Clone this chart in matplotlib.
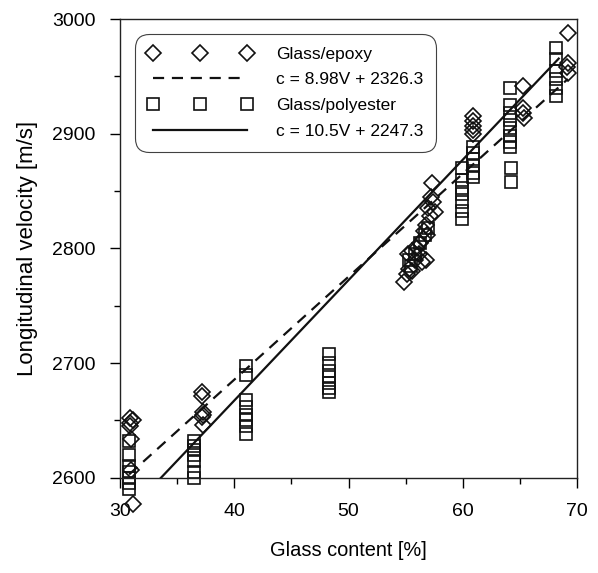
import matplotlib
matplotlib.use("Agg")
import matplotlib.pyplot as plt
import numpy as np

plt.rcParams['font.family'] = ['Liberation Sans', 'DejaVu Sans']

# Glass/epoxy data (glass content %, velocity m/s)
epoxy_v = [30.9, 30.9, 30.9, 31.0, 31.0, 31.1, 31.1,
           37.2, 37.2, 37.3, 37.3, 37.2, 37.3,
           57.3, 57.2, 57.4, 57.0, 57.6, 57.1, 56.8, 56.6, 56.9, 56.5, 56.3,
           56.0, 56.2, 55.6, 55.2, 55.8, 56.4, 56.8, 55.3, 55.1, 55.6, 54.9,
           60.9, 60.9, 60.9, 60.9, 60.9,
           65.3, 65.3, 65.3, 65.4,
           69.2, 69.2, 69.2, 69.1]
epoxy_c = [2652, 2648, 2645, 2634, 2607, 2650, 2577,
           2675, 2671, 2657, 2655, 2653, 2646,
           2857, 2845, 2840, 2835, 2832, 2828, 2820, 2815, 2812, 2808, 2805,
           2800, 2795, 2798, 2795, 2790, 2788, 2790, 2782, 2778, 2780, 2771,
           2915, 2911, 2907, 2903, 2900,
           2942, 2922, 2918, 2914,
           2988, 2962, 2953, 2958]

# Glass/polyester data
poly_v = [30.8, 30.8, 30.8, 30.8, 30.8, 30.8, 30.8,
          36.5, 36.5, 36.5, 36.5, 36.5, 36.5, 36.5,
          41.0, 41.0, 41.0, 41.0, 41.0, 41.0, 41.0, 41.0,
          48.3, 48.3, 48.3, 48.3, 48.3, 48.3, 48.3,
          55.3, 55.8, 56.3, 56.7, 57.0, 55.5,
          59.9, 59.9, 59.9, 59.9, 59.9, 59.9, 59.9,
          60.9, 60.9, 60.9, 60.9, 60.9, 60.9,
          64.1, 64.1, 64.1, 64.1, 64.1, 64.1, 64.1, 64.2, 64.2, 64.1,
          68.2, 68.2, 68.2, 68.2, 68.2, 68.2]
poly_c = [2632, 2620, 2610, 2605, 2600, 2595, 2590,
          2632, 2628, 2624, 2620, 2615, 2605, 2600,
          2697, 2690, 2668, 2662, 2655, 2650, 2645, 2638,
          2708, 2700, 2693, 2688, 2683, 2678, 2675,
          2790, 2795, 2805, 2812, 2818, 2785,
          2870, 2860, 2853, 2847, 2840, 2833, 2826,
          2888, 2883, 2878, 2872, 2866, 2862,
          2925, 2918, 2912, 2905, 2898, 2893, 2888, 2870, 2858, 2940,
          2975, 2965, 2955, 2948, 2940, 2933]

# Regression lines c = a*V + b
epoxy_fit = (8.98, 2326.3)
poly_fit = (10.5, 2247.3)
epoxy_fit_range = [30.8, 69.2]
poly_fit_range = [30.0, 68.4]

labels = ["Glass/epoxy", "c = 8.98V + 2326.3",
          "Glass/polyester", "c = 10.5V + 2247.3"]

fig = plt.figure(figsize=(5.98, 5.73), dpi=100)
ax = fig.add_axes([0.2007, 0.1663, 0.7642, 0.8005])

fs = 14
h1, = ax.plot(epoxy_v, epoxy_c, linestyle='none', marker='D', ms=7.8,
              mfc='none', mec='#111111', mew=1.2, label=labels[0], clip_on=False)
xe = np.array(epoxy_fit_range)
h2, = ax.plot(xe, epoxy_fit[0] * xe + epoxy_fit[1], color='#111111', lw=1.6,
              dashes=(5, 3.5), label=labels[1])
h3, = ax.plot(poly_v, poly_c, linestyle='none', marker='s', ms=8.5,
              mfc='none', mec='#111111', mew=1.2, label=labels[2], clip_on=False)
xp = np.array(poly_fit_range)
h4, = ax.plot(xp, poly_fit[0] * xp + poly_fit[1], color='#111111', lw=1.6,
              label=labels[3])

ax.set_xlim(30, 70)
ax.set_ylim(2600, 3000)
ax.set_xticks([30, 40, 50, 60, 70])
ax.set_xticks([35, 45, 55, 65], minor=True)
ax.set_yticks([2600, 2700, 2800, 2900, 3000])
ax.set_yticks([2650, 2750, 2850, 2950], minor=True)
ax.tick_params(which='major', direction='out', length=7.5, width=1, labelsize=fs)
ax.tick_params(axis='x', which='major', pad=11)
ax.tick_params(axis='y', which='major', pad=10)
ax.tick_params(which='minor', direction='out', length=4, width=1)
for s in ax.spines.values():
    s.set_linewidth(1.0)
    s.set_color('#222222')

ax.set_xlabel("Glass content [%]", fontsize=14.4, labelpad=15)
ax.set_ylabel("Longitudinal velocity [m/s]", fontsize=16, labelpad=10)

lfs = 12.5
leg = ax.legend(handles=[h1, h2, h3, h4], loc='upper left',
                bbox_to_anchor=(0.033, 0.968), numpoints=3, handlelength=6.0,
                handletextpad=1.35, fontsize=lfs, labelspacing=0.6,
                fancybox=True, frameon=True, borderpad=0.75, borderaxespad=0)
leg.get_frame().set_edgecolor('#111111')
leg.get_frame().set_linewidth(0.8)
leg.get_frame().set_boxstyle('round,pad=0.0,rounding_size=0.8')

fig.savefig("out.png", dpi=100)
